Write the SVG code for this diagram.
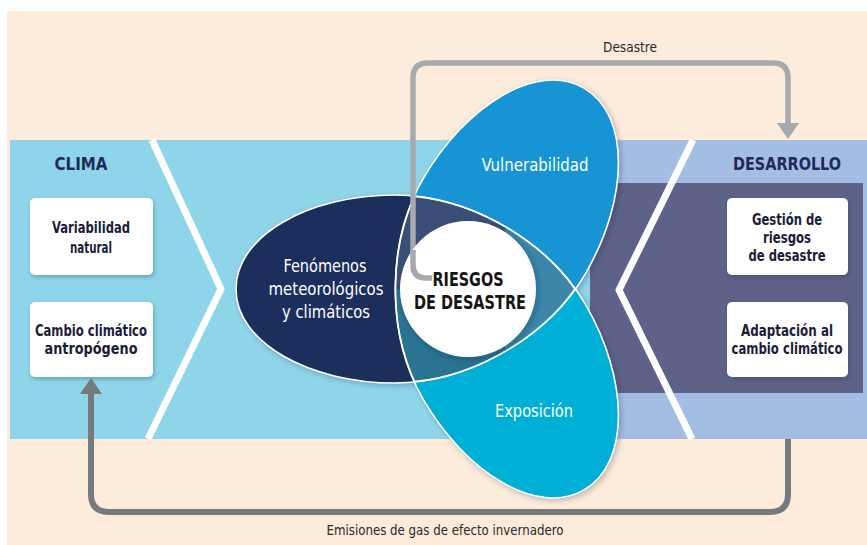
<svg xmlns="http://www.w3.org/2000/svg" width="867" height="545" viewBox="0 0 867 545">
<style>
text{font-family:"Liberation Sans Narrow","DejaVu Sans Condensed","Liberation Sans",sans-serif;text-anchor:middle}
.hd{font-size:18px;font-weight:bold;fill:#1F2A5A}
.bx{font-size:16px;font-weight:bold;fill:#1B1D38}
.el{font-size:18px;fill:#FFFFFF}
.rk{font-size:19px;font-weight:bold;fill:#151515}
.lb{font-size:14px;fill:#2A2A2A}
.box{fill:#FFFFFF;filter:url(#sh)}
.chev{fill:none;stroke:#FFFFFF;stroke-width:7;stroke-linejoin:round}
.outl{fill:none;stroke:#FFFFFF;stroke-width:1.6}
</style>
<defs>
<filter id="sh" x="-20%" y="-20%" width="140%" height="150%"><feDropShadow dx="1" dy="2" stdDeviation="2" flood-color="#203050" flood-opacity="0.35"/></filter>
<filter id="sh2" x="-20%" y="-20%" width="140%" height="140%"><feDropShadow dx="2" dy="2" stdDeviation="3" flood-color="#102040" flood-opacity="0.3"/></filter>
<path id="eD" d="M236 289 C236 235 310 195 395 195 C470 195 540 240 575 289 C540 338 470 383 395 383 C310 383 236 343 236 289 Z"/>
<path id="eV" d="M236 289 C236 235 310 195 395 195 C470 195 540 240 575 289 C540 338 470 383 395 383 C310 383 236 343 236 289 Z" transform="rotate(120 468 289)"/>
<path id="eE" d="M236 289 C236 235 310 195 395 195 C470 195 540 240 575 289 C540 338 470 383 395 383 C310 383 236 343 236 289 Z" transform="rotate(-120 468 289)"/>
<clipPath id="cV"><use href="#eV"/></clipPath>
<clipPath id="cE"><use href="#eE"/></clipPath>
<clipPath id="cR"><rect x="505" y="150" width="120" height="280"/></clipPath>
<clipPath id="cLo"><rect x="200" y="289" width="420" height="150"/></clipPath>
<mask id="mR" maskUnits="userSpaceOnUse" x="0" y="0" width="867" height="545">
<rect x="0" y="0" width="867" height="545" fill="#FFFFFF"/>
<g clip-path="url(#cR)"><use href="#eD" fill="#000000"/></g>
</mask>
</defs>

<rect x="0" y="0" width="867" height="545" fill="#FFFFFF"/>
<rect x="7" y="11" width="860" height="534" fill="#FDEBDB"/>

<g id="clima-panel">
<rect x="10" y="140" width="600" height="299" fill="#8FD5EA"/>
</g>
<g id="desarrollo-panel">
<rect x="600" y="140" width="267" height="299" fill="#A4BEE3"/>
<rect x="590" y="183" width="273" height="210" fill="#5E6289"/>
</g>
<path class="chev" d="M152 140 L221 289 L148 439"/>
<path class="chev" d="M693 140 L619 290 L692 439"/>

<text class="hd" x="81" y="170" textLength="53" lengthAdjust="spacingAndGlyphs">CLIMA</text>
<text class="hd" x="787" y="170" textLength="108" lengthAdjust="spacingAndGlyphs">DESARROLLO</text>

<g id="variabilidad">
<rect class="box" x="30" y="198" width="123" height="77" rx="5"/>
<text class="bx" x="91" y="233" textLength="78" lengthAdjust="spacingAndGlyphs">Variabilidad</text>
<text class="bx" x="91" y="253" textLength="42" lengthAdjust="spacingAndGlyphs">natural</text>
</g>
<g id="cambio">
<rect class="box" x="30" y="302" width="123" height="75" rx="5"/>
<text class="bx" x="91" y="336" textLength="112" lengthAdjust="spacingAndGlyphs">Cambio climático</text>
<text class="bx" x="91" y="354" textLength="93" lengthAdjust="spacingAndGlyphs">antropógeno</text>
</g>
<g id="gestion">
<rect class="box" x="727" y="198" width="121" height="77" rx="5"/>
<text class="bx" x="787" y="225" textLength="70" lengthAdjust="spacingAndGlyphs">Gestión de</text>
<text class="bx" x="787" y="243" textLength="48" lengthAdjust="spacingAndGlyphs">riesgos</text>
<text class="bx" x="787" y="261" textLength="77" lengthAdjust="spacingAndGlyphs">de desastre</text>
</g>
<g id="adaptacion">
<rect class="box" x="727" y="302" width="121" height="75" rx="5"/>
<text class="bx" x="787" y="336" textLength="92" lengthAdjust="spacingAndGlyphs">Adaptación al</text>
<text class="bx" x="787" y="354" textLength="111" lengthAdjust="spacingAndGlyphs">cambio climático</text>
</g>

<g id="riesgos-venn">
<g filter="url(#sh2)">
<use href="#eD" fill="#1F2D5B"/>
<use href="#eV" fill="#1794D3"/>
<use href="#eE" fill="#00AFD5"/>
</g>
<g clip-path="url(#cV)"><use href="#eD" fill="#3A4F78"/></g>
<g clip-path="url(#cE)"><g clip-path="url(#cLo)"><use href="#eD" fill="#2A7391"/></g></g>
<g clip-path="url(#cR)"><use href="#eD" fill="#3C87A9"/></g>
<g mask="url(#mR)">
<use href="#eV" class="outl"/>
<use href="#eE" class="outl"/>
</g>
<use href="#eD" class="outl"/>
</g>
<g id="fenomenos">
<text class="el" x="325" y="272" textLength="83" lengthAdjust="spacingAndGlyphs">Fenómenos</text>
<text class="el" x="326" y="295" textLength="115" lengthAdjust="spacingAndGlyphs">meteorológicos</text>
<text class="el" x="326" y="318" textLength="88" lengthAdjust="spacingAndGlyphs">y climáticos</text>
</g>
<g id="vulnerabilidad">
<text class="el" x="535" y="171" textLength="107" lengthAdjust="spacingAndGlyphs">Vulnerabilidad</text>
</g>
<g id="exposicion">
<text class="el" x="534" y="417" textLength="78" lengthAdjust="spacingAndGlyphs">Exposición</text>
</g>

<g id="connectors">
<path d="M432 278 L426 278 Q413 278 413 265 L413 78 Q413 63 428 63 L773 63 Q788 63 788 78 L788 124" fill="none" stroke="#A6A9AD" stroke-width="5.5"/>
<polygon points="777,123 799,123 788,139" fill="#A6A9AD"/>
<path d="M788 439 L788 494 Q788 512 770 512 L109 512 Q91 512 91 494 L91 393" fill="none" stroke="#767A7E" stroke-width="6"/>
<polygon points="80,394 102,394 91,378" fill="#767A7E"/>
<text class="lb" x="630" y="52" textLength="54" lengthAdjust="spacingAndGlyphs">Desastre</text>
<text class="lb" x="445" y="535" textLength="237" lengthAdjust="spacingAndGlyphs">Emisiones de gas de efecto invernadero</text>
</g>

<g id="riesgos-de-desastre">
<circle cx="468" cy="289" r="68" fill="#FFFFFF" filter="url(#sh2)"/>
<path d="M432 278 L426 278 Q413 278 413 265 L413 250" fill="none" stroke="#A6A9AD" stroke-width="5.5"/>
<text class="rk" x="468" y="286" textLength="71" lengthAdjust="spacingAndGlyphs">RIESGOS</text>
<text class="rk" x="470" y="309" textLength="112" lengthAdjust="spacingAndGlyphs">DE DESASTRE</text>
</g>
</svg>
